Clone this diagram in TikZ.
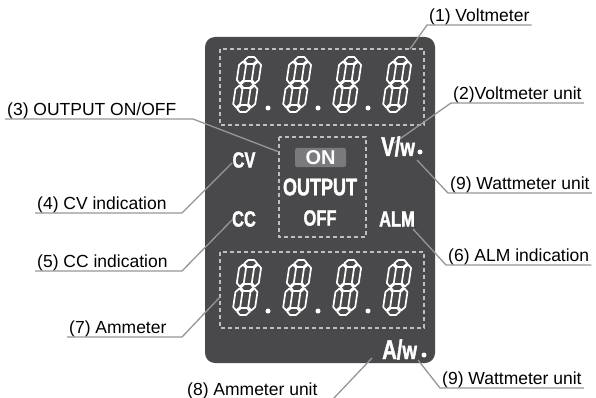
\documentclass[tikz,border=0pt]{standalone}
\usepackage{fontspec}
\setmainfont{Liberation Sans}
\newfontfamily\panelfont{Liberation Sans}[FakeStretch=0.75, FakeBold=1.5]
\usetikzlibrary{positioning}
\definecolor{panelgray}{RGB}{73,73,75}
\definecolor{ongray}{RGB}{122,122,124}
\definecolor{leadergray}{RGB}{150,150,150}
\definecolor{dashgray}{RGB}{190,190,190}

\begin{document}
\begin{tikzpicture}[
    x=1pt, y=-1pt,
    callout/.style={anchor=south west, inner xsep=2pt, inner ysep=3pt, text height=12pt, text depth=0pt, font=\fontsize{17.5}{18}\selectfont},
    leader/.style={draw=leadergray, line width=1.3pt},
    frame/.style={draw=dashgray, line width=1.5pt, dash pattern=on 4pt off 3pt},
    lamp/.style={text=white, inner sep=0pt, font=\panelfont\bfseries\fontsize{22}{22}\selectfont},
    seg/.style={draw=white, line width=1.7pt, line join=round},
    pics/eight/.style={code={
        \begin{scope}[xslant=0.15]
        \foreach \yc in {-51.5,-27.5,-3.5}
            \draw[seg] (4.5,\yc) -- ++(3.5,-3.5) -- ++(6,0) -- ++(3.5,3.5) -- ++(-3.5,3.5) -- ++(-6,0) -- cycle;
        \foreach \xc in {3.5,18.5}
            \foreach \ya/\yb in {-50.5/-28.5,-26.5/-4.5}
                \draw[seg] (\xc,\ya) -- ++(3.5,3.5) -- (\xc+3.5,\yb-3.5) -- ++(-3.5,3.5) -- ++(-3.5,-3.5) -- (\xc-3.5,\ya+3.5) -- cycle;
        \end{scope}
    }}
]
    \useasboundingbox (0,0) rectangle (596,398);

    % Panel
    \fill[panelgray, rounded corners=10pt] (205,37) rectangle (435,363);

    % Dashed frames
    \draw[frame] (220,49) rectangle (424,125);
    \draw[frame] (279,137) rectangle (366,237);
    \draw[frame] (220,252) rectangle (424,328);

    % Digits
    \foreach \dx in {0,50,100,150} {
        \pic at (232+\dx,112) {eight};
        \pic at (232+\dx,315) {eight};
    }
    \foreach \dx in {0,50,100} {
        \fill[white] (268+\dx,108) circle (2.5);
        \fill[white] (268+\dx,311) circle (2.5);
    }

    % Leader ends
    \coordinate (t1) at (410,49);
    \coordinate (t2) at (394,143);
    \coordinate (t3) at (279,152);
    \coordinate (t4) at (232,163);
    \coordinate (t5) at (232,220);
    \coordinate (t6) at (413,229);
    \coordinate (t7) at (220,297);
    \coordinate (t8) at (372,358);
    \coordinate (t9a) at (417,160);
    \coordinate (t9b) at (418,360);

    % Right callouts
    \node[callout] (l1) at (427,25) {(1) Voltmeter};
    \draw[leader] (t1) -- (l1.south west) -- (l1.south east);
    \node[callout] (l2) at (451,103) {(2)Voltmeter unit};
    \draw[leader] (t2) -- (l2.south west) -- (l2.south east);
    \node[callout] (l9a) at (448,193) {(9) Wattmeter unit};
    \draw[leader] (t9a) -- (l9a.south west) -- (l9a.south east);
    \node[callout] (l6) at (446,265) {(6) ALM indication};
    \draw[leader] (t6) -- (l6.south west) -- (l6.south east);
    \node[callout] (l9b) at (440,388) {(9) Wattmeter unit};
    \draw[leader] (t9b) -- (l9b.south west) -- (l9b.south east);

    % Left callouts
    \node[callout] (l3) at (5,119) {(3) OUTPUT ON/OFF};
    \coordinate (k3) at (193,119);
    \draw[leader] (l3.south west) -- (k3) -- (t3);
    \node[callout] (l4) at (35,213) {(4) CV indication};
    \coordinate (k4) at (182,213);
    \draw[leader] (l4.south west) -- (k4) -- (t4);
    \node[callout] (l5) at (35,271) {(5) CC indication};
    \coordinate (k5) at (182,271);
    \draw[leader] (l5.south west) -- (k5) -- (t5);
    \node[callout] (l7) at (67,337) {(7) Ammeter};
    \coordinate (k7) at (182,337);
    \draw[leader] (l7.south west) -- (k7) -- (t7);
    \node[callout] (l8) at (185,399) {(8) Ammeter unit};
    \coordinate (k8) at (333,399);
    \draw[leader] (l8.south west) -- (k8) -- (t8);

    % Lamps
    \node[lamp] (cv) at (244,160) {CV};
    \node[lamp] (cc) at (244,219) {CC};
    \node[lamp] (alm) at (397,219) {ALM};
    \node[lamp, fill=ongray, rounded corners=2pt, minimum width=51pt, minimum height=19pt,
        font=\bfseries\fontsize{20}{20}\selectfont] (on) at (320.5,157.5) {ON};
    \node[lamp, font=\panelfont\bfseries\fontsize{24}{24}\selectfont] (output) at (320,187) {OUTPUT};
    \node[lamp] (off) at (320,218) {OFF};

    % Units
    \node[lamp, anchor=base west] (vunit) at (381,156)
        {\fontsize{27}{27}\selectfont V/\fontsize{25}{25}\selectfont w};
    \node[circle, fill=white, inner sep=0pt, minimum size=5pt] (vdot) at (420,152) {};
    \node[lamp, anchor=base west] (aunit) at (382,359)
        {\fontsize{27}{27}\selectfont A/\fontsize{25}{25}\selectfont w};
    \node[circle, fill=white, inner sep=0pt, minimum size=5pt] (adot) at (424,355) {};
\end{tikzpicture}
\end{document}
